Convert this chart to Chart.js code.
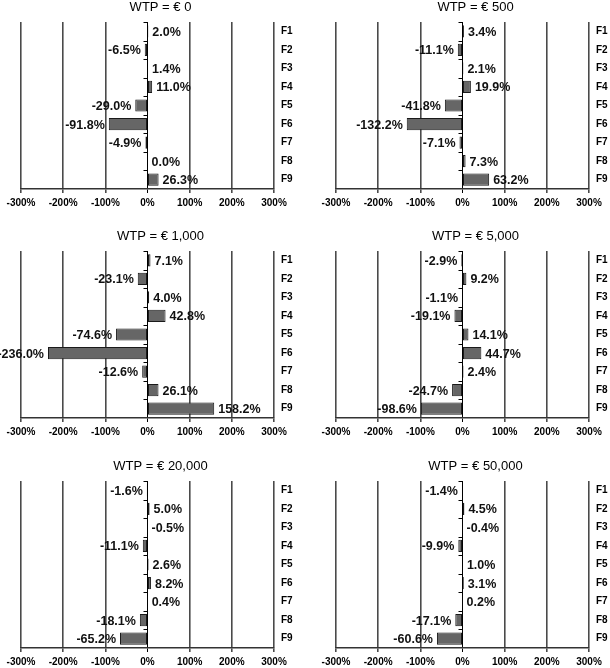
<!DOCTYPE html>
<html>
<head>
<meta charset="utf-8">
<script src="https://cdn.jsdelivr.net/npm/chart.js@4/dist/chart.umd.min.js"></script>
<style>
  body { margin: 0; background: #fff; width: 610px; height: 668px; position: relative; overflow: hidden; }
  canvas { position: absolute; }
</style>
</head>
<body>
<canvas id="c0" width="300" height="210" style="left:0;top:0"></canvas>
<canvas id="c1" width="300" height="210" style="left:315px;top:0"></canvas>
<canvas id="c2" width="300" height="210" style="left:0;top:229px"></canvas>
<canvas id="c3" width="300" height="210" style="left:315px;top:229px"></canvas>
<canvas id="c4" width="300" height="210" style="left:0;top:459px"></canvas>
<canvas id="c5" width="300" height="210" style="left:315px;top:459px"></canvas>
<script>
// Change per factor (%) at each WTP level
const factors = ['F1', 'F2', 'F3', 'F4', 'F5', 'F6', 'F7', 'F8', 'F9'];
const xTicks = [-300, -200, -100, 0, 100, 200, 300];

const wtp0     = [2.0, -6.5, 1.4, 11.0, -29.0, -91.8, -4.9, 0.0, 26.3];
const wtp500   = [3.4, -11.1, 2.1, 19.9, -41.8, -132.2, -7.1, 7.3, 63.2];
const wtp1000  = [7.1, -23.1, 4.0, 42.8, -74.6, -236.0, -12.6, 26.1, 158.2];
const wtp5000  = [-2.9, 9.2, -1.1, -19.1, 14.1, 44.7, 2.4, -24.7, -98.6];
const wtp20000 = [-1.6, 5.0, -0.5, -11.1, 2.6, 8.2, 0.4, -18.1, -65.2];
const wtp50000 = [-1.4, 4.5, -0.4, -9.9, 1.0, 3.1, 0.2, -17.1, -60.6];

const panels = [
  { id: 'c0', title: 'WTP = € 0', values: wtp0 },
  { id: 'c1', title: 'WTP = € 500', values: wtp500 },
  { id: 'c2', title: 'WTP = € 1,000', values: wtp1000 },
  { id: 'c3', title: 'WTP = € 5,000', values: wtp5000 },
  { id: 'c4', title: 'WTP = € 20,000', values: wtp20000 },
  { id: 'c5', title: 'WTP = € 50,000', values: wtp50000 }
];

const FONT = 'Arial, "Liberation Sans", Helvetica, sans-serif';

// value labels next to bars + little ticks on the zero line
const valueLabels = {
  id: 'valueLabels',
  afterDatasetsDraw(chart) {
    const ctx = chart.ctx;
    const xs = chart.scales.x;
    const ys = chart.scales.y;
    const zero = xs.getPixelForValue(0);
    const vals = chart.data.datasets[0].data;
    ctx.save();
    ctx.font = 'bold 12.5px ' + FONT;
    ctx.fillStyle = '#111';
    ctx.textBaseline = 'middle';
    chart.getDatasetMeta(0).data.forEach((bar, i) => {
      const v = vals[i];
      const txt = v.toFixed(1) + '%';
      if (v < -0.5) {
        ctx.textAlign = 'right';
        ctx.fillText(txt, bar.x - 4, bar.y + 1);
      } else {
        ctx.textAlign = 'left';
        ctx.fillText(txt, Math.max(bar.x, zero) + 4, bar.y + 1);
      }
    });
    ctx.strokeStyle = '#000';
    ctx.lineWidth = 1;
    ctx.beginPath();
    for (let i = 0; i < factors.length; i++) {
      const py = Math.round(ys.getPixelForValue(i - 0.5)) + 0.5;
      ctx.moveTo(zero - 4, py);
      ctx.lineTo(zero, py);
    }
    ctx.stroke();
    ctx.restore();
  }
};

panels.forEach(p => {
  new Chart(document.getElementById(p.id), {
    type: 'bar',
    data: {
      labels: factors,
      datasets: [{
        data: p.values,
        backgroundColor: '#666666',
        borderColor: '#1a1a1a',
        borderWidth: 1,
        borderSkipped: false,
        barPercentage: 0.66,
        categoryPercentage: 1
      }]
    },
    options: {
      indexAxis: 'y',
      responsive: false,
      animation: false,
      layout: { padding: { left: 21, right: 0, top: 0, bottom: 0 } },
      plugins: {
        legend: { display: false },
        tooltip: { enabled: false },
        title: {
          display: true,
          text: p.title,
          color: '#000',
          font: { family: FONT, size: 13, weight: 'normal', lineHeight: 1 },
          padding: { top: 1, bottom: 8 }
        }
      },
      scales: {
        x: {
          min: -300,
          max: 300,
          afterBuildTicks: s => { s.ticks = xTicks.map(v => ({ value: v })); },
          afterFit: s => { s.height = 21; },
          ticks: {
            callback: v => v + '%',
            color: '#000',
            padding: 4,
            maxRotation: 0,
            font: { family: FONT, size: 10, weight: 'bold' }
          },
          grid: {
            color: c => c.tick && c.tick.value === 0 ? '#000' : '#4a4a4a',
            lineWidth: c => c.tick && c.tick.value === 0 ? 1 : 1.6,
            tickLength: 4
          },
          border: { display: true, color: '#333', width: 1.5 }
        },
        y: {
          position: 'right',
          afterFit: s => { s.width = 26; },
          ticks: {
            color: '#000',
            padding: 7,
            font: { family: FONT, size: 10, weight: 'bold' }
          },
          grid: { display: false, drawTicks: false },
          border: { display: false }
        }
      }
    },
    plugins: [valueLabels]
  });
});
</script>
</body>
</html>
